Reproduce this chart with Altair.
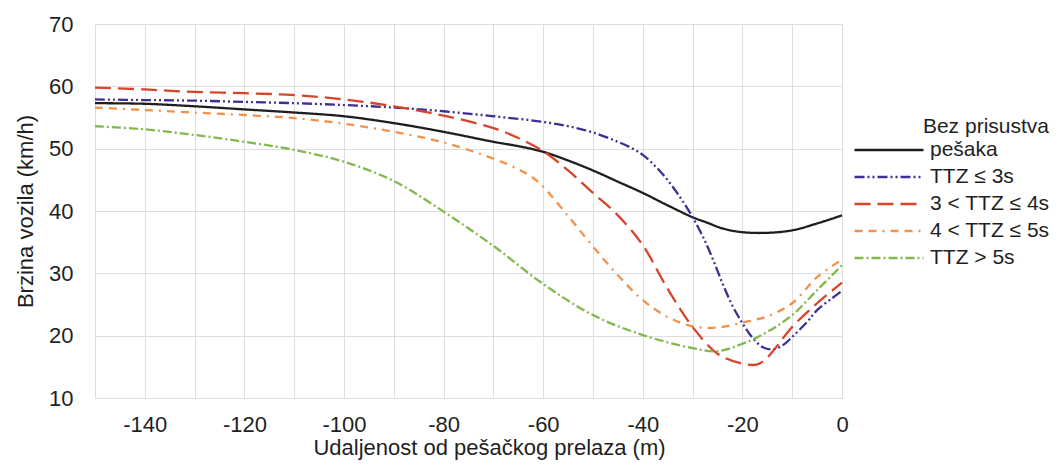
import altair as alt
import pandas as pd

series_names = ["Bez prisustva pešaka", "TTZ ≤ 3s", "3 < TTZ ≤ 4s", "4 < TTZ ≤ 5s", "TTZ > 5s"]
series_colors = ["#1e1e1e", "#3d2f96", "#d8432a", "#f2924a", "#82b84c"]
series_dashes = [[1, 0], [10, 3, 2, 3, 2, 3], [16, 7], [8, 6, 8, 6, 2, 6], [9, 3, 2, 3]]

black_x = [-150, -140, -130, -120, -110, -100, -90, -80, -70, -65, -60, -55, -50, -45, -40, -35, -30, -27, -24, -20, -15, -10, -5, 0]
black_y = [57.3, 57.2, 56.8, 56.3, 55.8, 55.2, 54.1, 52.7, 51.1, 50.4, 49.5, 48.1, 46.5, 44.7, 42.9, 40.9, 39.0, 38.1, 37.2, 36.6, 36.5, 36.9, 38.0, 39.3]

purple_x = [-150, -140, -130, -120, -110, -100, -90, -80, -70, -60, -55, -50, -45, -42, -40, -38, -36, -34, -32, -30, -28, -26, -24, -22, -20, -18, -16, -14, -12, -10, -7, -5, -2, 0]
purple_y = [57.9, 57.8, 57.7, 57.5, 57.3, 57.0, 56.6, 56.0, 55.2, 54.3, 53.6, 52.6, 51.1, 50.0, 49.0, 47.6, 45.9, 43.9, 41.6, 39.0, 36.0, 32.4, 28.4, 24.8, 22.0, 19.7, 18.2, 17.8, 18.4, 19.8, 22.2, 24.1, 26.0, 27.2]

red_x = [-150, -140, -130, -120, -110, -100, -90, -80, -70, -65, -60, -55, -50, -45, -40, -35, -30, -25, -20, -17, -15, -10, -5, 0]
red_y = [59.8, 59.5, 59.1, 58.9, 58.6, 57.9, 56.8, 55.3, 53.3, 51.7, 49.6, 46.5, 42.9, 39.3, 34.5, 27.5, 21.4, 17.1, 15.5, 15.4, 16.5, 21.4, 25.2, 28.5]

orange_x = [-150, -140, -130, -120, -110, -100, -90, -80, -70, -65, -62, -60, -55, -50, -45, -40, -35, -30, -25, -20, -15, -10, -5, 0]
orange_y = [56.6, 56.2, 55.8, 55.4, 54.9, 54.0, 52.7, 51.0, 48.4, 46.7, 45.3, 43.9, 39.2, 34.3, 29.7, 25.7, 23.0, 21.5, 21.3, 22.1, 23.1, 25.2, 29.4, 32.2]

green_x = [-150, -140, -130, -120, -110, -100, -90, -80, -70, -60, -50, -40, -30, -25, -20, -15, -10, -5, 0]
green_y = [53.6, 53.1, 52.2, 51.1, 49.8, 47.9, 44.8, 39.9, 34.4, 28.3, 23.3, 20.1, 18.0, 17.5, 18.7, 20.6, 23.3, 27.3, 31.3]

x_grid = list(range(-150, 1, 10))
y_grid = list(range(10, 71, 10))

rows = []
for name, xs, ys in zip(series_names,
                        [black_x, purple_x, red_x, orange_x, green_x],
                        [black_y, purple_y, red_y, orange_y, green_y]):
    for i, (xv, yv) in enumerate(zip(xs, ys)):
        rows.append({"serija": name, "x": xv, "y": yv, "i": i})
df = pd.DataFrame(rows)

FONT = "Liberation Sans"
TXT = "#1f1f1f"

# The first legend entry's label wraps onto two lines: "Bez prisustva" / "pešaka".
legend = alt.Legend(
    title="Bez prisustva", titleFont=FONT, titleFontSize=21, titleFontWeight="normal",
    titleColor=TXT, titleAnchor="end", titlePadding=1, titleLimit=300,
    orient="none", legendX=758, legendY=92,
    symbolType="stroke", symbolSize=4761, symbolStrokeWidth=2.5,
    labelFontSize=21, labelFont=FONT, labelColor=TXT, labelOffset=5,
    clipHeight=24, rowPadding=3, labelLimit=300,
    labelExpr="datum.label == 'Bez prisustva pešaka' ? 'pešaka' : datum.label",
)

chart = alt.Chart(df).mark_line(interpolate="catmull-rom", strokeWidth=2.3).encode(
    x=alt.X("x:Q",
            scale=alt.Scale(domain=[-150, 0], nice=False, zero=False),
            axis=alt.Axis(values=x_grid, labelExpr="datum.value % 20 == 0 ? '' + datum.value : ''",
                          title="Udaljenost od pešačkog prelaza (m)", grid=True, ticks=False, domain=False,
                          labelFontSize=22, labelFont=FONT, labelColor=TXT, labelPadding=16,
                          titleFontSize=22, titleFont=FONT, titleFontWeight="normal", titleColor=TXT,
                          titlePadding=2, titleX=394, labelFlush=False)),
    y=alt.Y("y:Q",
            scale=alt.Scale(domain=[10, 70], nice=False, zero=False),
            axis=alt.Axis(values=y_grid, title="Brzina vozila (km/h)", grid=True, ticks=False, domain=False,
                          labelFontSize=22, labelFont=FONT, labelColor=TXT, labelPadding=22,
                          titleFontSize=22, titleFont=FONT, titleFontWeight="normal", titleColor=TXT,
                          titlePadding=11, labelFlush=False)),
    color=alt.Color("serija:N", scale=alt.Scale(domain=series_names, range=series_colors), legend=legend, sort=series_names),
    strokeDash=alt.StrokeDash("serija:N", scale=alt.Scale(domain=series_names, range=series_dashes), legend=legend, sort=series_names),
    order="i:Q",
).properties(
    width=747, height=374,
    autosize=alt.AutoSizeParams(type="none"),
    padding={"left": 87, "top": 16, "right": 210, "bottom": 62},
).configure_axis(
    gridColor="#c9c5c2", gridWidth=1.5, gridOpacity=1,
).configure_view(
    stroke=None,
).configure(background="white")

chart.save("out.html", embed_options={"renderer": "svg", "actions": False})
